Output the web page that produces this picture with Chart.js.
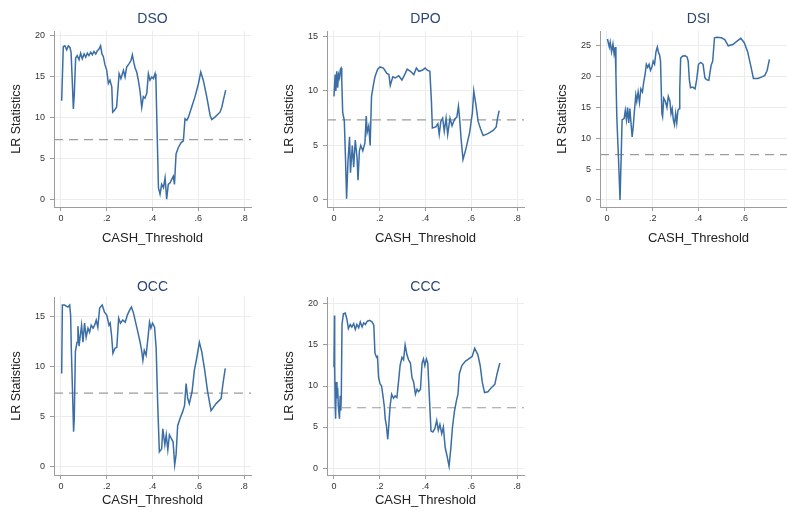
<!DOCTYPE html>
<html>
<head>
<meta charset="utf-8">
<script src="https://cdn.jsdelivr.net/npm/chart.js@4.4.1/dist/chart.umd.min.js"></script>
<style>
  html, body { margin: 0; padding: 0; background: #fff; overflow: hidden; }
  body { width: 787px; height: 511px; position: relative; }
  canvas { position: absolute; }
</style>
</head>
<body>
<canvas id="dso" width="262" height="250" style="left:0px;top:0px"></canvas>
<canvas id="dpo" width="262" height="250" style="left:273px;top:0px"></canvas>
<canvas id="dsi" width="262" height="250" style="left:546px;top:0px"></canvas>
<canvas id="occ" width="262" height="255" style="left:0px;top:262px"></canvas>
<canvas id="ccc" width="262" height="255" style="left:273px;top:262px"></canvas>
<script>
// axis ticks shared by all panels
const xTickValues = [0, 0.2, 0.4, 0.6, 0.8];
const xTickLabels = ["0", ".2", ".4", ".6", ".8"];
const critValue = 7.35;

// DSO
const dsoThreshold = [0.003,0.010,0.017,0.025,0.032,0.039,0.044,0.050,0.054,0.058,
  0.064,0.071,0.079,0.086,0.093,0.101,0.108,0.115,0.122,0.130,
  0.137,0.144,0.152,0.159,0.166,0.173,0.179,0.185,0.192,0.200,
  0.207,0.214,0.222,0.226,0.233,0.243,0.254,0.262,0.273,0.280,
  0.287,0.297,0.306,0.312,0.318,0.324,0.331,0.338,0.345,0.353,
  0.360,0.367,0.375,0.382,0.389,0.397,0.404,0.411,0.415,0.420,
  0.426,0.433,0.440,0.448,0.455,0.462,0.469,0.477,0.484,0.491,
  0.496,0.503,0.513,0.525,0.535,0.542,0.550,0.557,0.571,0.586,
  0.601,0.611,0.622,0.637,0.652,0.659,0.673,0.695,0.703,0.710,0.720];
const dsoLR = [12.1,18.7,18.8,18.3,18.8,18.6,18.0,14.0,11.1,12.8,
  17.3,17.6,17.1,17.9,17.2,17.8,17.4,17.9,17.6,18.0,
  17.7,18.1,17.8,18.2,18.4,18.8,17.8,17.5,16.5,15.8,
  14.2,14.6,13.8,10.7,10.9,11.3,15.4,14.8,15.8,15.0,
  16.2,16.6,17.0,17.7,16.8,16.1,15.6,14.6,13.4,11.3,
  12.6,12.4,13.0,15.4,14.6,15.0,14.8,15.4,14.6,8.5,
  1.5,0.7,1.9,1.5,2.7,0.1,1.9,2.1,2.5,2.9,
  1.9,5.6,6.4,7.0,7.2,9.9,9.7,10.1,11.3,12.6,
  14.2,15.6,14.6,12.6,10.3,9.8,10.1,10.7,11.3,12.2,13.4];
const dsoTicks = [0, 5, 10, 15, 20];

// DPO
const dpoThreshold = [0.000,0.005,0.008,0.012,0.016,0.020,0.024,0.028,0.031,0.034,
  0.038,0.045,0.050,0.055,0.061,0.068,0.072,0.080,0.086,0.093,
  0.101,0.105,0.111,0.117,0.126,0.135,0.141,0.145,0.152,0.158,
  0.164,0.172,0.179,0.191,0.201,0.216,0.231,0.240,0.246,0.257,
  0.268,0.283,0.297,0.309,0.320,0.334,0.349,0.360,0.371,0.386,
  0.398,0.408,0.419,0.426,0.430,0.445,0.454,0.460,0.467,0.475,
  0.482,0.490,0.497,0.507,0.516,0.527,0.537,0.544,0.549,0.556,
  0.564,0.578,0.593,0.605,0.611,0.620,0.630,0.641,0.652,0.675,
  0.697,0.709,0.715,0.722];
const dpoLR = [9.5,11.5,10.0,11.8,10.3,11.5,11.2,12.0,12.1,11.0,
  8.0,7.3,4.0,0.1,3.5,5.8,2.5,5.0,3.0,5.5,
  3.8,1.8,4.5,5.0,4.5,5.2,7.7,6.2,6.8,5.0,
  9.5,10.5,11.3,12.0,12.2,12.1,11.6,11.5,10.5,11.3,
  11.2,11.4,11.0,11.5,12.0,11.8,11.5,12.1,11.8,11.9,
  12.1,11.9,11.8,9.0,6.6,6.7,7.0,6.0,7.2,7.5,
  6.3,7.5,6.0,7.5,6.8,7.4,7.6,8.6,7.5,5.5,
  3.7,4.8,6.2,8.0,10.0,8.8,7.2,6.5,5.9,6.1,
  6.4,6.7,7.5,8.2];
const dpoTicks = [0, 5, 10, 15];

// DSI
const dsiThreshold = [0.002,0.010,0.014,0.020,0.026,0.031,0.036,0.039,0.043,0.050,
  0.057,0.062,0.066,0.075,0.080,0.085,0.090,0.095,0.100,0.106,
  0.110,0.115,0.120,0.126,0.130,0.136,0.142,0.148,0.155,0.160,
  0.167,0.172,0.178,0.184,0.190,0.196,0.202,0.208,0.214,0.220,
  0.226,0.230,0.234,0.240,0.243,0.248,0.255,0.262,0.268,0.275,
  0.280,0.285,0.290,0.295,0.300,0.305,0.310,0.315,0.318,0.322,
  0.330,0.340,0.350,0.355,0.360,0.365,0.375,0.385,0.392,0.400,
  0.410,0.420,0.428,0.435,0.445,0.455,0.462,0.470,0.480,0.500,
  0.515,0.530,0.550,0.570,0.585,0.600,0.615,0.630,0.640,0.660,
  0.680,0.690,0.700,0.710];
const dsiLR = [26.1,24.8,25.6,24.0,25.3,23.7,24.8,20.4,13.3,7.0,
  0.0,7.0,13.0,13.2,14.5,13.0,15.0,12.5,14.8,12.0,
  10.2,12.0,14.5,17.0,16.0,17.5,15.8,18.0,17.5,19.0,
  20.5,22.0,21.5,22.0,21.0,21.5,22.5,22.0,24.0,24.8,
  23.8,23.5,22.5,14.0,13.5,16.5,16.0,15.0,16.8,16.0,
  14.0,14.8,13.0,12.2,14.0,12.5,14.5,14.8,18.0,23.0,
  23.3,23.4,23.2,22.5,19.5,18.2,18.3,18.0,19.5,22.0,
  22.3,22.0,19.8,19.5,19.4,21.8,22.5,26.3,26.4,26.3,
  26.0,25.0,25.2,25.8,26.2,25.5,24.0,21.5,19.7,19.7,
  20.0,20.2,21.0,22.8];
const dsiTicks = [0, 5, 10, 15, 20, 25];

// OCC
const occThreshold = [0.003,0.006,0.016,0.030,0.038,0.042,0.045,0.050,0.055,0.058,
  0.063,0.070,0.074,0.079,0.084,0.090,0.096,0.103,0.110,0.118,
  0.125,0.132,0.140,0.147,0.154,0.161,0.169,0.180,0.190,0.200,
  0.210,0.215,0.221,0.227,0.236,0.244,0.252,0.260,0.270,0.281,
  0.290,0.300,0.308,0.317,0.326,0.336,0.346,0.353,0.358,0.364,
  0.372,0.380,0.387,0.393,0.400,0.409,0.416,0.423,0.430,0.440,
  0.445,0.454,0.460,0.467,0.474,0.483,0.490,0.497,0.503,0.510,
  0.520,0.532,0.540,0.547,0.554,0.561,0.573,0.583,0.593,0.605,
  0.615,0.627,0.641,0.656,0.678,0.700,0.707,0.718];
const occLR = [9.3,16.1,16.1,15.9,16.1,15.1,11.8,7.8,3.5,4.8,
  11.5,12.4,14.0,12.0,13.0,14.1,12.4,14.3,12.9,13.8,
  13.4,14.1,13.8,14.1,14.6,13.9,15.8,16.1,15.4,15.1,
  14.1,14.3,13.1,11.3,11.8,11.9,14.8,14.3,14.6,14.4,
  15.1,15.6,15.9,15.3,14.4,13.4,12.4,11.5,10.6,11.6,
  11.1,12.8,14.4,13.8,14.3,13.9,11.8,6.1,1.5,1.8,
  3.8,2.2,3.2,1.7,3.2,2.8,2.5,0.2,1.2,4.1,
  4.8,5.5,6.1,8.3,6.8,6.3,7.5,9.6,10.8,12.4,
  11.5,9.8,7.5,5.6,6.3,6.8,8.1,9.8];
const occTicks = [0, 5, 10, 15];

// CCC
const cccThreshold = [0.000,0.002,0.003,0.005,0.007,0.010,0.013,0.016,0.019,0.024,
  0.027,0.030,0.032,0.035,0.041,0.049,0.056,0.063,0.071,0.078,
  0.086,0.093,0.100,0.108,0.115,0.123,0.130,0.137,0.146,0.156,
  0.167,0.174,0.179,0.186,0.190,0.195,0.201,0.208,0.214,0.220,
  0.224,0.229,0.235,0.239,0.245,0.252,0.260,0.267,0.275,0.282,
  0.289,0.297,0.304,0.311,0.319,0.326,0.334,0.341,0.348,0.356,
  0.363,0.370,0.378,0.385,0.391,0.397,0.404,0.410,0.418,0.424,
  0.432,0.441,0.449,0.456,0.463,0.471,0.478,0.486,0.494,0.503,
  0.511,0.518,0.527,0.536,0.542,0.548,0.559,0.574,0.589,0.604,
  0.615,0.629,0.639,0.648,0.658,0.673,0.688,0.703,0.713,0.725];
const cccLR = [12.3,18.6,12.5,8.0,6.0,10.5,8.5,9.8,7.5,6.0,
  8.8,7.0,9.0,17.5,18.8,18.9,18.2,17.0,17.5,17.2,
  17.6,16.9,17.5,17.1,17.8,17.2,17.7,17.5,17.9,18.0,
  17.8,17.4,14.0,13.5,13.6,11.0,10.3,10.0,8.8,7.5,
  6.0,5.2,3.5,5.0,7.5,9.0,8.5,8.8,8.6,10.5,
  12.5,13.5,13.2,15.0,13.8,13.2,12.8,11.0,10.5,9.0,
  9.6,9.3,9.6,12.8,13.3,12.5,13.3,12.8,8.0,4.5,
  4.4,4.8,5.8,4.6,5.3,4.2,5.0,2.5,1.5,0.2,
  2.5,5.0,7.0,8.3,9.0,11.5,12.5,13.0,13.3,13.6,
  14.6,13.8,12.5,10.5,9.2,9.3,9.8,10.2,11.5,12.8];
const cccTicks = [0, 5, 10, 15, 20];

const fontFamily = "'Liberation Sans', Arial, Helvetica, sans-serif";
const lineColor = "#3a6ea5";

// dashed critical-value line across the plot region
const critLine = {
  id: "critLine",
  beforeDatasetsDraw(chart) {
    const { ctx, chartArea, scales } = chart;
    const py = scales.y.getPixelForValue(critValue);
    ctx.save();
    ctx.strokeStyle = "#9c9c9c";
    ctx.lineWidth = 1.2;
    ctx.setLineDash([9, 6]);
    ctx.beginPath();
    ctx.moveTo(chartArea.left, py);
    ctx.lineTo(chartArea.right, py);
    ctx.stroke();
    ctx.restore();
  },
};

const makePanel = (id, title, xs, ys, yTicks, yMin, yMax, row) => {
  const ctx = document.getElementById(id).getContext("2d");
  const points = xs.map((x, i) => ({ x: x, y: ys[i] }));
  const top = row === 1 ? { t: 10.6, b: 3.6 } : { t: 16.6, b: 1.6 };
  const xHeight = row === 1 ? 43 : 42;
  const xTitlePad = row === 1 ? 4.2 : 8.4;

  return new Chart(ctx, {
    type: "line",
    data: {
      datasets: [
        {
          data: points,
          borderColor: lineColor,
          borderWidth: 1.5,
          pointRadius: 0,
          tension: 0,
          fill: false,
        },
      ],
    },
    options: {
      responsive: false,
      animation: false,
      layout: { padding: { left: 0, top: 0, right: 11, bottom: 0 } },
      plugins: {
        legend: { display: false },
        tooltip: { enabled: false },
        title: {
          display: true,
          text: title,
          fullSize: false,
          color: "#2c4775",
          font: { family: fontFamily, size: 14, weight: "normal" },
          padding: { top: top.t, bottom: top.b },
        },
      },
      scales: {
        x: {
          type: "linear",
          min: -0.0306,
          max: 0.8306,
          afterBuildTicks: (s) => {
            s.ticks = xTickValues.map((v) => ({ value: v }));
          },
          afterFit: (s) => {
            s.height = xHeight;
          },
          ticks: {
            autoSkip: false,
            maxRotation: 0,
            padding: 2,
            color: "#333",
            font: { family: fontFamily, size: 9 },
            callback: (v, i) => xTickLabels[i],
          },
          grid: { color: "#ececec", tickColor: "#9c9c9c", tickLength: 4 },
          border: { color: "#9c9c9c", width: 1 },
          title: {
            display: true,
            text: "CASH_Threshold",
            color: "#222",
            font: { family: fontFamily, size: 13 },
            padding: { top: 0, bottom: xTitlePad },
          },
        },
        y: {
          type: "linear",
          min: yMin,
          max: yMax,
          afterBuildTicks: (s) => {
            s.ticks = yTicks.map((v) => ({ value: v }));
          },
          afterFit: (s) => {
            s.width = 54;
          },
          ticks: {
            autoSkip: false,
            padding: 5,
            color: "#333",
            font: { family: fontFamily, size: 9 },
            callback: (v) => String(v),
          },
          grid: { color: "#ececec", tickColor: "#9c9c9c", tickLength: 4 },
          border: { color: "#9c9c9c", width: 1 },
          title: {
            display: true,
            text: "LR Statistics",
            color: "#222",
            font: { family: fontFamily, size: 12.5 },
            padding: { top: 9.5, bottom: 0 },
          },
        },
      },
    },
    plugins: [critLine],
  });
};

makePanel("dso", "DSO", dsoThreshold, dsoLR, dsoTicks, -0.86, 20.6, 1);
makePanel("dpo", "DPO", dpoThreshold, dpoLR, dpoTicks, -0.65, 15.5, 1);
makePanel("dsi", "DSI", dsiThreshold, dsiLR, dsiTicks, -1.15, 27.4, 1);
makePanel("occ", "OCC", occThreshold, occLR, occTicks, -0.8, 16.9, 2);
makePanel("ccc", "CCC", cccThreshold, cccLR, cccTicks, -0.85, 20.85, 2);
</script>
</body>
</html>
